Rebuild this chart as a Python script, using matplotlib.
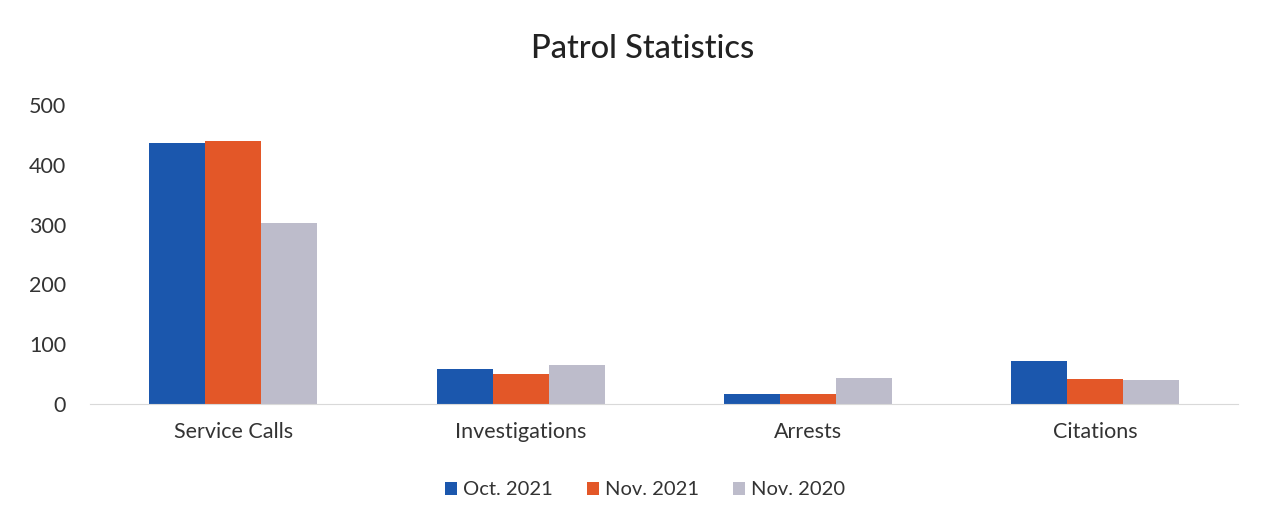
import matplotlib
matplotlib.use("Agg")
import matplotlib.pyplot as plt
import numpy as np

categories = ["Service Calls", "Investigations", "Arrests", "Citations"]
series_names = ["Oct. 2021", "Nov. 2021", "Nov. 2020"]
oct_2021 = [437, 58, 16, 72]
nov_2021 = [440, 50, 16, 42]
nov_2020 = [302, 66, 44, 41]
y_ticks = [0, 100, 200, 300, 400, 500]

colors = ["#1B57AD", "#E35728", "#BDBCCB"]

plt.rcParams['font.family'] = ['Lato', 'DejaVu Sans']

fig = plt.figure(figsize=(12.65, 5.2), dpi=100)
ax = fig.add_axes([0.071, 0.223, 0.908, 0.575])

x = np.arange(len(categories))
w = 0.195
for i, (vals, name) in enumerate(zip([oct_2021, nov_2021, nov_2020], series_names)):
    ax.bar(x + (i - 1) * w, vals, width=w, color=colors[i], label=name)

ax.set_xlim(-0.5, len(categories) - 0.5)
ax.set_ylim(0, 500)
ax.set_yticks(y_ticks)
ax.set_yticklabels([str(t) for t in y_ticks], fontsize=15.5, color="#333333")
ax.set_xticks(x)
ax.set_xticklabels(categories, fontsize=15.5, color="#333333")
ax.tick_params(axis='both', length=0)
ax.tick_params(axis='y', pad=17)
ax.tick_params(axis='x', pad=13)
for s in ["top", "right", "left"]:
    ax.spines[s].set_visible(False)
ax.spines["bottom"].set_color("#D9D9D9")

fig.text(0.508, 0.905, "Patrol Statistics", ha="center", va="center", fontsize=23.5,
         color="#222222", fontweight="medium")

leg = fig.legend(loc="center", bbox_to_anchor=(0.51, 0.058), ncol=3, frameon=False,
                 fontsize=14.5, handlelength=0.6, handleheight=0.6, handletextpad=0.3,
                 columnspacing=1.7)
for t in leg.get_texts():
    t.set_color("#333333")

fig.savefig("out.png", dpi=100, facecolor="white")
